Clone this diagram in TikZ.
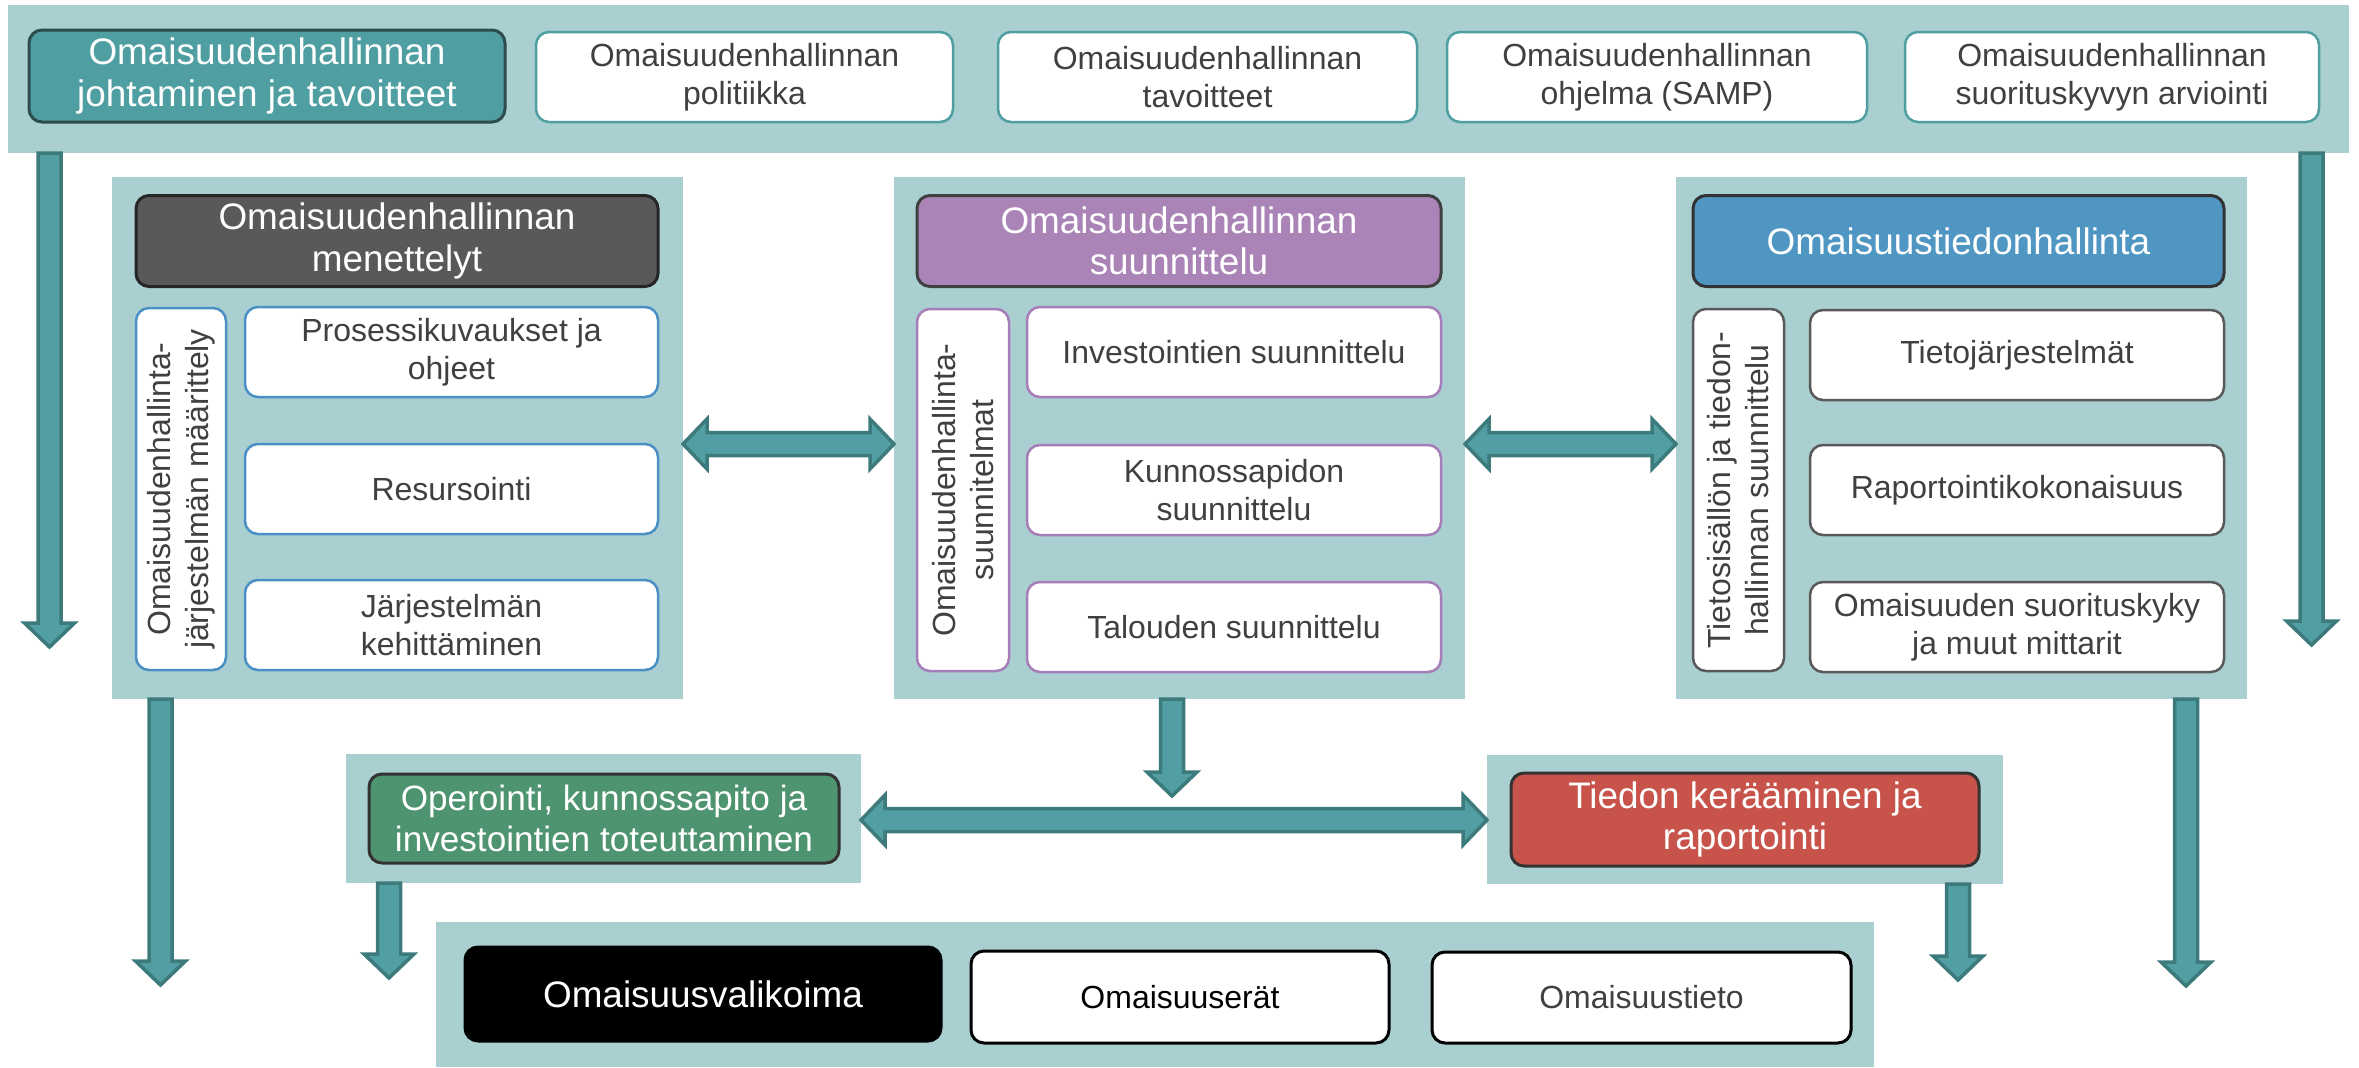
\documentclass[tikz,border=0pt]{standalone}
\usepackage{fontspec}
\setmainfont{Liberation Sans}
\usetikzlibrary{calc}
\definecolor{panelbg}{HTML}{A9CFD1}
\definecolor{tealbox}{HTML}{4F9FA2}
\definecolor{tealedge}{HTML}{2E4C4D}
\definecolor{arrfill}{HTML}{519FA2}
\definecolor{arredge}{HTML}{3D7A7C}
\definecolor{greybox}{HTML}{595959}
\definecolor{purplebox}{HTML}{AA84B7}
\definecolor{purpleedge}{HTML}{A67DB8}
\definecolor{bluebox}{HTML}{4F96C3}
\definecolor{blueedge}{HTML}{4A90C4}
\definecolor{greenbox}{HTML}{4F9470}
\definecolor{redbox}{HTML}{C7534A}
\definecolor{txtgrey}{HTML}{404040}
\newcommand{\arrshaft}{1.15mm}
\newcommand{\arrhead}{2.5mm}
\newcommand{\arrlen}{2.4mm}
\newcommand{\arrdown}[2]{\draw[fatarr] let \p1=(#1), \p2=(#2) in (\x2-\arrshaft,\y1) -- (\x2-\arrshaft,\y2+\arrlen) -- (\x2-\arrhead,\y2+\arrlen) -- (\x2,\y2) -- (\x2+\arrhead,\y2+\arrlen) -- (\x2+\arrshaft,\y2+\arrlen) -- (\x2+\arrshaft,\y1) -- cycle;}
\newcommand{\arrboth}[2]{\draw[fatarr] let \p1=(#1), \p2=(#2) in (\x1,\y1) -- (\x1+\arrlen,\y1+\arrhead) -- (\x1+\arrlen,\y1+\arrshaft) -- (\x2-\arrlen,\y1+\arrshaft) -- (\x2-\arrlen,\y1+\arrhead) -- (\x2,\y1) -- (\x2-\arrlen,\y1-\arrhead) -- (\x2-\arrlen,\y1-\arrshaft) -- (\x1+\arrlen,\y1-\arrshaft) -- (\x1+\arrlen,\y1-\arrhead) -- cycle;}
\tikzset{
  panel/.style={fill=panelbg, inner sep=0pt, outer sep=0pt},
  box/.style={draw, rounded corners=1.3mm, line width=0.3mm, align=center, inner sep=0pt, outer sep=0pt, minimum height=9mm},
  head/.style={box, text=white, font=\fontsize{10.5}{11.8}\selectfont},
  item/.style={box, fill=white, text=txtgrey, line width=0.25mm, font=\fontsize{9.1}{10.8}\selectfont},
  fatarr/.style={fill=arrfill, draw=arredge, line width=0.35mm, line join=miter}
}
\begin{document}
\begin{tikzpicture}[x=0.1mm,y=-0.1mm]
	\useasboundingbox (0,0) rectangle (2359,1067);

    % top bar
    \node[panel, minimum width=234.1mm, minimum height=14.8mm] (topbar) at (1178.5,79) {};
    \node[head, fill=tealbox, draw=tealedge, minimum width=47.6mm, minimum height=9.2mm] (gov) at (267,76) {Omaisuudenhallinnan\\johtaminen ja tavoitteet};
    \node[item, draw=tealbox, minimum width=41.7mm] (pol) at (744.5,77) {Omaisuudenhallinnan\\politiikka};
    \node[item, draw=tealbox, minimum width=41.9mm] (tav) at (1207.5,77) {Omaisuudenhallinnan\\tavoitteet};
    \node[item, draw=tealbox, minimum width=42mm] (samp) at (1657,77) {Omaisuudenhallinnan\\ohjelma (SAMP)};
    \node[item, draw=tealbox, minimum width=41.4mm] (arv) at (2112,77) {Omaisuudenhallinnan\\suorituskyvyn arviointi};

    % three panels
    \node[panel, minimum width=57.1mm, minimum height=52.2mm] (menP) at (397.5,438) {};
    \node[panel, minimum width=57.1mm, minimum height=52.2mm] (planP) at (1179.5,438) {};
    \node[panel, minimum width=57.1mm, minimum height=52.2mm] (infoP) at (1961.5,438) {};

    \node[head, fill=greybox, draw=black!85, minimum width=52.2mm, minimum height=9.1mm] (menT) at (397,241) {Omaisuudenhallinnan\\menettelyt};
    \node[item, draw=blueedge, rotate=90, minimum width=36.2mm, minimum height=9mm] (menV) at (181,489) {Omaisuudenhallinta-\\järjestelmän määrittely};
    \node[item, draw=blueedge, minimum width=41.3mm] (men1) at (451.5,352) {Prosessikuvaukset ja\\ohjeet};
    \node[item, draw=blueedge, minimum width=41.3mm] (men2) at (451.5,489) {Resursointi};
    \node[item, draw=blueedge, minimum width=41.3mm] (men3) at (451.5,625) {Järjestelmän\\kehittäminen};

    \node[head, fill=purplebox, draw=black!75, minimum width=52.4mm, minimum height=9.1mm] (planT) at (1179,241) {Omaisuudenhallinnan\\suunnittelu};
    \node[item, draw=purpleedge, rotate=90, minimum width=36.2mm, minimum height=9.2mm] (planV) at (963,490) {Omaisuudenhallinta-\\suunnitelmat};
    \node[item, draw=purpleedge, minimum width=41.4mm] (plan1) at (1234,352) {Investointien suunnittelu};
    \node[item, draw=purpleedge, minimum width=41.4mm] (plan2) at (1234,490) {Kunnossapidon\\suunnittelu};
    \node[item, draw=purpleedge, minimum width=41.4mm] (plan3) at (1234,627) {Talouden suunnittelu};

    \node[head, fill=bluebox, draw=black!80, minimum width=53.1mm, minimum height=9.1mm] (infoT) at (1958.5,241) {Omaisuustiedonhallinta};
    \node[item, draw=greybox, rotate=90, minimum width=36.2mm, minimum height=9.1mm] (infoV) at (1738.5,490) {Tietosisällön ja tiedon-\\hallinnan suunnittelu};
    \node[item, draw=greybox, minimum width=41.4mm] (info1) at (2017,355) {Tietojärjestelmät};
    \node[item, draw=greybox, minimum width=41.4mm] (info2) at (2017,490) {Raportointikokonaisuus};
    \node[item, draw=greybox, minimum width=41.4mm] (info3) at (2017,627) {Omaisuuden suorituskyky\\ja muut mittarit};

    % middle row
    \node[panel, minimum width=51.5mm, minimum height=12.9mm] (opP) at (603.5,818.5) {};
    \node[head, fill=greenbox, draw=black!80, font=\fontsize{10}{11.8}\selectfont, minimum width=47mm, minimum height=8.9mm] (op) at (604,818.5) {Operointi, kunnossapito ja\\investointien toteuttaminen};
    \node[panel, minimum width=51.6mm, minimum height=12.9mm] (tiP) at (1745,819.5) {};
    \node[head, fill=redbox, draw=black!80, minimum width=46.8mm, minimum height=9.3mm] (ti) at (1745,819.5) {Tiedon kerääminen ja\\raportointi};

    % bottom row
    \node[panel, minimum width=143.8mm, minimum height=14.5mm] (botP) at (1155,994.5) {};
    \node[head, fill=black, draw=black, minimum width=47.6mm, minimum height=9.4mm] (valik) at (703,994) {Omaisuusvalikoima};
    \node[item, draw=black, text=black, line width=0.3mm, minimum width=41.8mm, minimum height=9.2mm] (erat) at (1180,997) {Omaisuuserät};
    \node[item, draw=black, line width=0.3mm, minimum width=41.9mm, minimum height=9.1mm] (tieto) at (1641.5,997.5) {Omaisuustieto};

    % arrow tips
    \coordinate (tipA) at (49.5,647);
    \coordinate (tipB) at (2311.5,645);
    \coordinate (tipC) at (160.5,985);
    \coordinate (tipD) at (2186,986);
    \coordinate (tipE) at (1172,796);
    \coordinate (tipF) at (389,978);
    \coordinate (tipG) at (1958,980);

    \arrdown{topbar.south west}{tipA}
    \arrdown{topbar.south east}{tipB}
    \arrdown{menP.south}{tipC}
    \arrdown{infoP.south}{tipD}
    \arrdown{planP.south}{tipE}
    \arrdown{opP.south}{tipF}
    \arrdown{tiP.south}{tipG}
    \arrboth{$(menP.east)+(0,6)$}{$(planP.west)+(0,6)$}
    \arrboth{$(planP.east)+(0,6)$}{$(infoP.west)+(0,6)$}
    \arrboth{$(opP.east)+(0,1.5)$}{$(tiP.west)+(0,0.5)$}
\end{tikzpicture}
\end{document}
